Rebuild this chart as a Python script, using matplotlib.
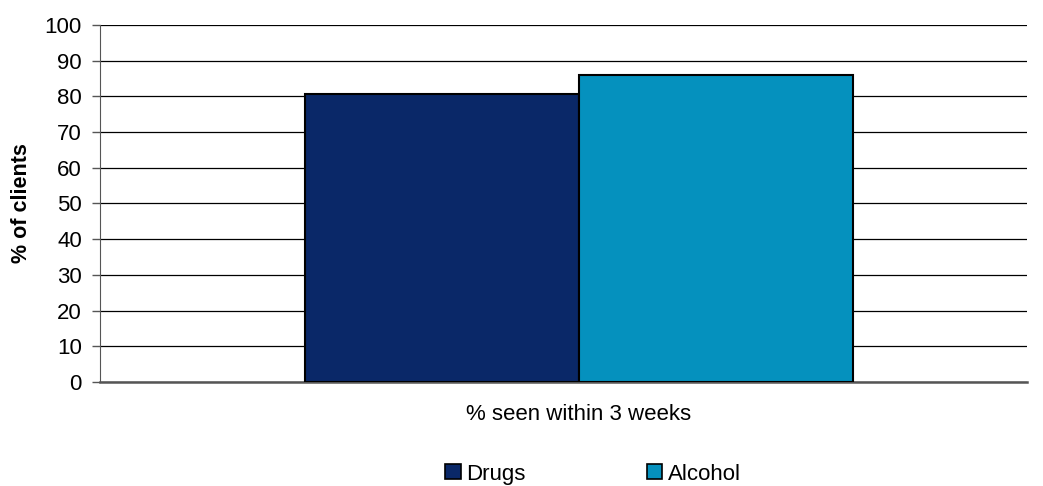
import numpy as np
import matplotlib.pyplot as plt
from matplotlib.patches import Patch

category = '% seen within 3 weeks'
series = ['Drugs', 'Alcohol']
values = [80.6, 86.1]
colors = ['#0A2868', '#0591BE']

plt.rcParams['font.family'] = ['Liberation Sans', 'DejaVu Sans']

fig = plt.figure(figsize=(10.43, 4.86), dpi=100)
ax = fig.add_axes([100/1043, 1-382/486, 927/1043, 357/486])

pos = [-0.5, 0.5]
for p, v, c in zip(pos, values, colors):
    ax.bar(p, v, width=1.0, color=c, edgecolor='black', linewidth=1.5, zorder=3)

ax.set_xlim(-1.748, 1.635)
ax.set_ylim(0, 100)
ax.set_yticks(np.arange(0, 101, 10))
ax.yaxis.grid(True, color='black', linewidth=0.9, zorder=0)
ax.set_axisbelow(True)
ax.tick_params(axis='y', labelsize=16, length=6, width=1, color='#555555', pad=7)
ax.set_xticks([0])
ax.set_xticklabels([category], fontsize=16)
ax.tick_params(axis='x', length=0, pad=16)
for s in ['top', 'right']:
    ax.spines[s].set_visible(False)
ax.spines['left'].set_color('#555555')
ax.spines['bottom'].set_color('#555555')
ax.spines['bottom'].set_linewidth(1.8)
ax.set_ylabel('% of clients', fontsize=15.5, fontweight='bold')
ax.yaxis.set_label_coords(-68/927, 0.5)

handles = [Patch(facecolor=c, edgecolor='black', linewidth=1.2) for c in colors]
fig.legend(handles, series, loc='center', bbox_to_anchor=(593/1043, 1-474/486), ncol=2,
           frameon=False, fontsize=16, handlelength=0.68, handleheight=0.68,
           handletextpad=0.23, columnspacing=5.5, borderaxespad=0, borderpad=0)

fig.savefig('out.png', dpi=100)
